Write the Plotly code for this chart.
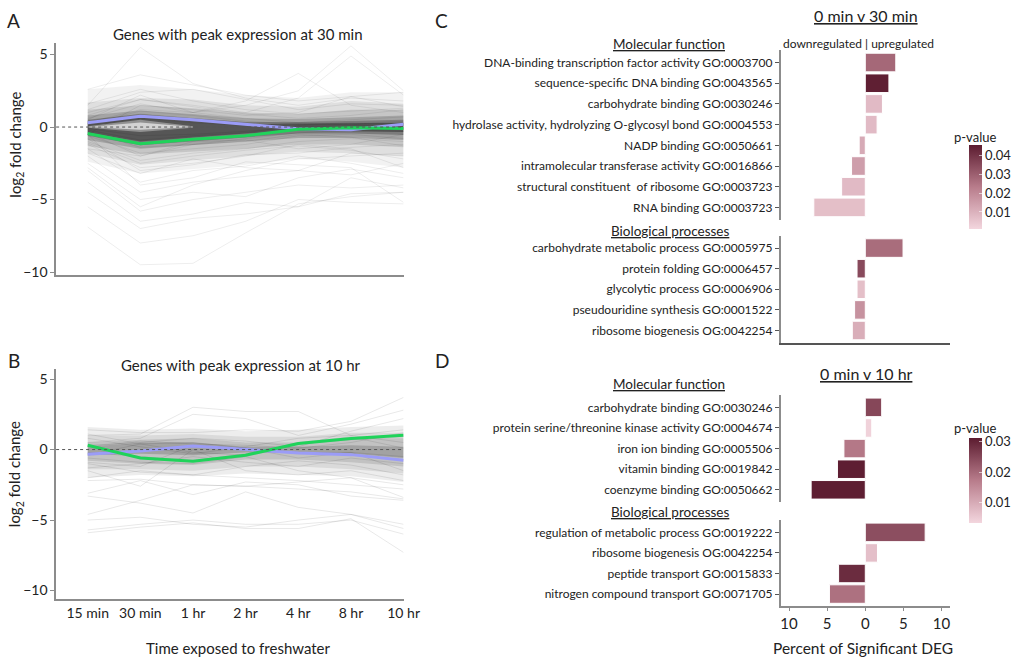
import plotly.graph_objects as go

W, H = 1025, 662
FONT = "Lato"
AXC = "#8c8c8c"
TXT = "#222222"

# ---------------- Panels A / B data ----------------
time_labels = ["15 min", "30 min", "1 hr", "2 hr", "4 hr", "8 hr", "10 hr"]

# Panel A: mean profiles
A_blue = [0.3, 0.75, 0.5, 0.2, -0.12, -0.18, 0.2]
A_green = [-0.45, -1.15, -0.85, -0.6, -0.15, -0.05, -0.1]
# Panel A: nested density envelopes of gene profiles (outer -> inner)
A_env_hi = [
    [2.6, 2.9, 2.6, 2.2, 2.0, 2.4, 2.4],
    [1.7, 2.0, 1.9, 1.5, 1.4, 1.8, 1.6],
    [1.2, 1.5, 1.3, 1.0, 0.9, 1.2, 1.2],
    [0.8, 1.15, 0.9, 0.6, 0.55, 0.7, 0.8],
    [0.5, 0.9, 0.6, 0.35, 0.35, 0.45, 0.5],
    [0.3, 0.75, 0.4, 0.2, 0.25, 0.25, 0.3],
]
A_env_lo = [
    [-2.4, -3.2, -2.9, -2.6, -2.2, -2.4, -2.8],
    [-1.8, -2.6, -2.3, -2.0, -1.7, -1.8, -2.0],
    [-1.3, -1.9, -1.7, -1.5, -1.2, -1.2, -1.4],
    [-0.9, -1.5, -1.25, -1.0, -0.75, -0.75, -0.9],
    [-0.6, -1.25, -0.95, -0.7, -0.45, -0.45, -0.55],
    [-0.4, -1.0, -0.7, -0.45, -0.25, -0.3, -0.35],
]
A_env_alpha = [0.05, 0.08, 0.11, 0.17, 0.24, 0.3]
# Panel A: sparse region around 30 min (few genes pass near zero)
A_gap_hi = [[0.05, 0.5, 0.05], [0.0, 0.32, 0.0]]
A_gap_lo = [[-0.05, -0.35, -0.05], [0.0, -0.18, 0.0]]
A_gap_alpha = [0.35, 0.6]
# Panel A: individual gene profiles
A_genes = [
    [2.6, 3.6, 2.9, 2.2, 1.8, 2.1, 2.4],
    [1.5, 5.5, 3.0, 2.0, 1.5, 2.0, 1.8],
    [0.5, 2.2, 1.0, 1.8, 3.7, 1.5, 1.0],
    [0.3, 1.2, 1.0, 1.5, 2.5, 5.6, 2.5],
    [0.8, 1.9, 1.5, 1.0, 2.0, 4.9, 2.2],
    [-0.5, 1.5, 1.2, 0.8, 1.0, 2.1, 1.4],
    [1.2, 2.4, 2.6, 1.9, 1.2, 1.6, 1.5],
    [-6.9, -9.5, -9.4, -7.3, -5.3, -4.8, -4.5],
    [-5.5, -8.0, -7.5, -6.5, -5.0, -5.2, -5.3],
    [-4.5, -7.0, -6.3, -6.0, -5.5, -4.6, -4.5],
    [-3.8, -6.5, -6.0, -5.2, -5.5, -3.5, -4.2],
    [-3.0, -5.8, -5.0, -4.5, -4.0, -4.2, -4.0],
    [-2.5, -5.0, -4.5, -4.8, -3.5, -2.9, -3.5],
    [-2.0, -4.5, -3.8, -3.4, -3.0, -3.3, -2.5],
    [-1.5, -3.8, -3.0, -2.7, -2.0, -2.5, -3.2],
    [-1.8, -3.2, -2.2, -2.8, -3.0, -1.8, -2.0],
    [-1.2, -2.8, -2.5, -2.0, -1.2, -1.5, -2.8],
    [-2.8, -5.5, -4.0, -3.0, -2.2, -2.0, -1.8],
    [-1.0, -2.3, -1.8, -1.5, -1.0, -0.8, -1.0],
    [-0.4, -2.0, -1.0, -0.9, -1.5, -1.2, -0.5],
    [1.0, 1.9, 1.4, 0.9, 0.6, 0.8, 1.2],
    [0.6, 1.6, 1.0, 0.6, 0.3, 0.5, 0.7],
    [0.2, 1.1, 0.8, 0.4, 0.2, 0.2, 0.4],
    [-0.3, -1.4, -1.2, -0.8, -0.4, -0.2, -0.3],
    [-0.6, -1.8, -1.5, -1.2, -0.6, -0.5, -0.8],
    [0.4, 0.9, 0.6, 0.3, 0.0, 0.1, 0.3],
    [-0.2, -0.9, -0.6, -0.4, 0.1, 0.2, -0.1],
    [-1.5, -2.0, -1.2, -1.0, -0.5, -0.7, -1.3],
    [-0.8, -3.0, -2.6, -1.9, -1.8, -1.4, -1.2],
    [-0.5, -4.0, -3.5, -2.4, -2.6, -2.8, -5.2],
    [1.6, 2.6, 1.8, 1.2, 0.9, 1.1, 1.3],
    [-1.1, -2.5, -2.0, -1.6, -1.3, -1.6, -2.2],
    [0.1, 0.6, 0.3, 0.1, 0.15, 0.3, 0.2],
    [-0.1, -0.6, -0.5, -0.3, 0.0, -0.1, 0.1],
]

# Panel B
B_blue = [-0.33, -0.1, 0.26, 0.0, -0.24, -0.36, -0.76]
B_green = [0.31, -0.6, -0.83, -0.4, 0.43, 0.78, 1.02]
B_env_hi = [
    [1.6, 1.4, 1.5, 1.3, 1.4, 1.6, 1.7],
    [1.0, 1.0, 1.1, 0.9, 0.9, 1.2, 1.2],
    [0.5, 0.7, 0.8, 0.5, 0.5, 0.8, 0.8],
    [0.2, 0.5, 0.5, 0.2, 0.2, 0.3, 0.2],
]
B_env_lo = [
    [-2.0, -1.8, -1.9, -1.7, -1.8, -1.9, -2.3],
    [-1.4, -1.4, -1.5, -1.2, -1.2, -1.4, -1.7],
    [-0.8, -1.0, -1.1, -0.7, -0.7, -0.9, -1.2],
    [-0.4, -0.3, -0.4, -0.2, -0.2, -0.3, -0.6],
]
B_env_alpha = [0.07, 0.08, 0.11, 0.16]
B_genes = [
    [-5.9, -5.5, -5.2, -5.6, -5.6, -4.9, -7.3],
    [-5.7, -5.3, -5.0, -5.3, -5.3, -5.0, -6.0],
    [-5.0, -4.8, -5.3, -5.5, -5.0, -4.6, -5.6],
    [-3.3, -3.8, -4.5, -3.0, -4.1, -4.6, -5.3],
    [-3.1, -2.2, -3.2, -2.3, -2.5, -3.3, -3.6],
    [-2.2, -2.1, -2.5, -2.6, -2.3, -2.0, -3.4],
    [-1.5, -2.6, 0.0, -1.5, -1.8, -1.5, -2.2],
    [-0.9, -1.2, 0.3, 0.1, -0.6, -0.2, -1.5],
    [1.0, 1.1, 3.0, 2.7, 2.7, 1.0, 0.5],
    [0.5, 0.8, 2.5, 2.2, 1.0, 1.8, 2.8],
    [1.4, 1.2, 1.2, 1.4, 1.3, 2.0, 3.7],
    [0.3, 0.5, 0.8, 0.6, 0.2, 1.3, 2.2],
    [-0.4, 0.4, 0.5, 0.1, -0.2, -0.2, -0.5],
    [0.2, 0.6, 0.4, 0.3, 0.1, 0.5, 1.2],
    [-1.0, -1.6, -1.8, -1.2, -0.8, -1.1, -1.8],
    [-0.6, -0.9, -1.0, -0.5, -1.5, -2.0, -2.5],
    [-2.0, -1.5, -1.8, -2.0, -2.2, -2.5, -2.8],
    [0.8, 0.2, -0.3, 0.2, 0.8, 1.0, 1.4],
    [-0.2, -0.5, -0.8, -0.3, 0.4, 0.7, 0.9],
    [-1.3, -1.0, -0.5, -0.9, -1.2, -0.6, -1.0],
    [-4.6, -3.6, -2.5, -2.6, -2.8, -3.0, -3.5],
    [1.1, 0.4, -0.2, -0.4, 0.5, 0.9, 0.1],
]

# ---------------- Panels C / D data ----------------
C_mf_terms = [
    "DNA-binding transcription factor activity GO:0003700",
    "sequence-specific DNA binding GO:0043565",
    "carbohydrate binding GO:0030246",
    "hydrolase activity, hydrolyzing O-glycosyl bond GO:0004553",
    "NADP binding GO:0050661",
    "intramolecular transferase activity GO:0016866",
    "structural constituent  of ribosome GO:0003723",
    "RNA binding GO:0003723",
]
C_mf_pct = [4.0, 3.1, 2.25, 1.55, -0.8, -1.8, -3.1, -6.75]
C_mf_p = [0.028, 0.045, 0.008, 0.008, 0.012, 0.015, 0.008, 0.007]

C_bp_terms = [
    "carbohydrate metabolic process GO:0005975",
    "protein folding GO:0006457",
    "glycolytic process GO:0006906",
    "pseudouridine synthesis GO:0001522",
    "ribosome biogenesis OG:0042254",
]
C_bp_pct = [4.95, -1.08, -1.08, -1.4, -1.7]
C_bp_p = [0.027, 0.035, 0.007, 0.018, 0.011]

D_mf_terms = [
    "carbohydrate binding GO:0030246",
    "protein serine/threonine kinase activity GO:0004674",
    "iron ion binding GO:0005506",
    "vitamin binding GO:0019842",
    "coenzyme binding GO:0050662",
]
D_mf_pct = [2.15, 0.85, -2.8, -3.65, -7.1]
D_mf_p = [0.025, 0.004, 0.018, 0.031, 0.031]

D_bp_terms = [
    "regulation of metabolic process GO:0019222",
    "ribosome biogenesis OG:0042254",
    "peptide transport GO:0015833",
    "nitrogen compound transport GO:0071705",
]
D_bp_pct = [7.85, 1.6, -3.5, -4.7]
D_bp_p = [0.024, 0.007, 0.029, 0.019]

pct_ticks = [-10, -5, 0, 5, 10]
pct_ticktext = ["10", "5", "0", "5", "10"]
C_pticks = [0.01, 0.02, 0.03, 0.04]
D_pticks = [0.01, 0.02, 0.03]

PSCALE = [[0.0, "#f3d6de"], [0.5, "#b87c8b"], [1.0, "#5c1c30"]]


def fx(px):
    return px / W


def fy(py):
    return 1 - py / H


fig = go.Figure()


def band(hi, lo, xa, ya, color, xs=None):
    xs = xs or time_labels
    fig.add_trace(go.Scatter(
        x=list(xs) + list(xs)[::-1], y=list(hi) + list(lo)[::-1],
        fill="toself", fillcolor=color, line=dict(width=0),
        mode="lines", hoverinfo="skip", showlegend=False, xaxis=xa, yaxis=ya))


def line(vals, xa, ya, color, width):
    fig.add_trace(go.Scatter(
        x=time_labels, y=vals, mode="lines", line=dict(color=color, width=width),
        hoverinfo="skip", showlegend=False, xaxis=xa, yaxis=ya))


# Panel A
for hi, lo, a in zip(A_env_hi, A_env_lo, A_env_alpha):
    band(hi, lo, "x", "y", f"rgba(0,0,0,{a})")
for hi, lo, a in zip(A_gap_hi, A_gap_lo, A_gap_alpha):
    band(hi, lo, "x", "y", f"rgba(255,255,255,{a})", xs=time_labels[:3])
for g in A_genes:
    line(g, "x", "y", "rgba(0,0,0,0.07)", 1)
line(A_blue, "x", "y", "#9b9cf7", 3)
line(A_green, "x", "y", "#1fd35a", 3)

# Panel B
for hi, lo, a in zip(B_env_hi, B_env_lo, B_env_alpha):
    band(hi, lo, "x2", "y2", f"rgba(0,0,0,{a})")
for g in B_genes:
    line(g, "x2", "y2", "rgba(0,0,0,0.09)", 1)
line(B_blue, "x2", "y2", "#9b9cf7", 3)
line(B_green, "x2", "y2", "#1fd35a", 3)


def bars(terms, pct, pv, xa, ya, cax):
    fig.add_trace(go.Bar(
        y=terms, x=pct, orientation="h",
        marker=dict(color=pv, coloraxis=cax, line=dict(color="white", width=1)),
        hoverinfo="skip", showlegend=False, xaxis=xa, yaxis=ya))


bars(C_mf_terms, C_mf_pct, C_mf_p, "x3", "y3", "coloraxis")
bars(C_bp_terms, C_bp_pct, C_bp_p, "x4", "y4", "coloraxis")
bars(D_mf_terms, D_mf_pct, D_mf_p, "x5", "y5", "coloraxis2")
bars(D_bp_terms, D_bp_pct, D_bp_p, "x6", "y6", "coloraxis2")

tickfont = dict(family=FONT, size=14, color=TXT)

# ---- axes layout ----
lay = dict(
    width=W, height=H, margin=dict(l=0, r=0, t=0, b=0),
    paper_bgcolor="white", plot_bgcolor="white",
    font=dict(family=FONT, color=TXT), bargap=0.1, showlegend=False,
)

line_ax = dict(showgrid=False, zeroline=False, showline=True, linecolor=AXC, linewidth=1.5)

# A
lay["xaxis"] = dict(domain=[fx(57), fx(410)], type="category", range=[-0.6, 6],
                    showticklabels=False, ticks="", anchor="y", **line_ax)
lay["yaxis"] = dict(domain=[fy(277), fy(43)], range=[-10.2, 5.82], tickvals=[5, 0, -5, -10],
                    ticks="outside", ticklen=4, tickcolor=AXC, tickfont=tickfont, anchor="x", **line_ax)
# B
lay["xaxis2"] = dict(domain=[fx(57), fx(410)], type="category", range=[-0.6, 6],
                     ticks="", tickfont=tickfont, anchor="y2", **line_ax)
lay["yaxis2"] = dict(domain=[fy(604), fy(372)], range=[-10.63, 5.7], tickvals=[5, 0, -5, -10],
                     ticks="outside", ticklen=4, tickcolor=AXC, tickfont=tickfont, anchor="x2", **line_ax)

bar_x = dict(range=[-11.1, 11.1], tickvals=pct_ticks, ticktext=pct_ticktext,
             showgrid=False, zeroline=False)
lab_font = dict(family=FONT, size=12, color=TXT)


def ycat(terms, top, bottom, anchor):
    return dict(domain=[fy(bottom), fy(top)], type="category",
                categoryorder="array", categoryarray=terms[::-1],
                range=[-0.6, len(terms) - 0.4], showgrid=False, zeroline=False,
                showline=True, linecolor=AXC, linewidth=1.5, ticks="outside",
                ticklen=4, tickcolor="#555555", tickfont=lab_font, anchor=anchor)


XC = [fx(793), fx(965)]
lay["xaxis3"] = dict(domain=XC, anchor="y3", showline=False, showticklabels=False, ticks="", **bar_x)
lay["yaxis3"] = ycat(C_mf_terms, 50.5, 221.5, "x3")
lay["xaxis4"] = dict(domain=XC, anchor="y4", showline=True, linecolor="#555555", linewidth=1.5,
                     showticklabels=False, ticks="", **bar_x)
lay["yaxis4"] = ycat(C_bp_terms, 237.5, 345.5, "x4")
lay["xaxis5"] = dict(domain=XC, anchor="y5", showline=False, showticklabels=False, ticks="", **bar_x)
lay["yaxis5"] = ycat(D_mf_terms, 398, 506, "x5")
lay["xaxis6"] = dict(domain=XC, anchor="y6", showline=True, linecolor=AXC, linewidth=1.5,
                     ticks="outside", ticklen=3, tickcolor=AXC, tickfont=dict(family=FONT, size=15, color=TXT),
                     **bar_x)
lay["yaxis6"] = ycat(D_bp_terms, 524, 611, "x6")

cb_common = dict(thickness=13, lenmode="pixels", xanchor="left", yanchor="middle",
                 xpad=0, ypad=0, outlinewidth=0, ticks="inside", ticklen=3,
                 tickcolor="rgba(255,255,255,0.6)",
                 tickfont=dict(family=FONT, size=13, color=TXT))
lay["coloraxis"] = dict(colorscale=PSCALE, cmin=0.0012, cmax=0.0457,
                        colorbar=dict(x=fx(984), y=fy(188), len=84, tickvals=C_pticks, **cb_common))
lay["coloraxis2"] = dict(colorscale=PSCALE, cmin=0.0034, cmax=0.0313,
                         colorbar=dict(x=fx(984), y=fy(484), len=85, tickvals=D_pticks, **cb_common))

fig.update_layout(**lay)

# zero reference lines
for xr, yr in [("x domain", "y"), ("x2 domain", "y2")]:
    fig.add_shape(type="line", xref=xr, yref=yr, x0=0, x1=1, y0=0, y1=0,
                  line=dict(color="#555555", width=1, dash="dot"))


# ---- annotations ----
def ann(text, x, y, size, rot=0, xanchor="center", color=TXT):
    fig.add_annotation(text=text, x=fx(x), y=fy(y), xref="paper", yref="paper",
                       showarrow=False, textangle=rot, xanchor=xanchor, yanchor="middle",
                       font=dict(family=FONT, size=size, color=color))


ann("A", 14, 21, 19)
ann("B", 14, 363, 19)
ann("C", 449, 21, 19)
ann("D", 449, 363, 19)
ann("Genes with peak expression at 30 min", 242, 34, 15)
ann("Genes with peak expression at 10 hr", 245, 368, 15)
ann("log<sub>2</sub> fold change", 16, 146, 15, rot=-90)
ann("log<sub>2</sub> fold change", 16, 478, 15, rot=-90)
ann("Time exposed to freshwater", 242, 653, 15)

ann("<u>0 min v 30 min</u>", 880, 16, 16)
ann("<u>0 min v 10 hr</u>", 880, 376, 16)
ann("<u>Molecular function</u>", 680, 44, 13.5)
ann("<u>Molecular function</u>", 680, 387, 13.5)
ann("<u>Biological processes</u>", 681, 233, 13.5)
ann("<u>Biological processes</u>", 681, 516, 13.5)
ann("downregulated | upregulated", 872, 44, 12)
ann("Percent of Significant DEG", 877, 653, 15.5)
ann("p-value", 990, 138, 13)
ann("p-value", 990, 431, 13)

fig.write_html("out.html")
